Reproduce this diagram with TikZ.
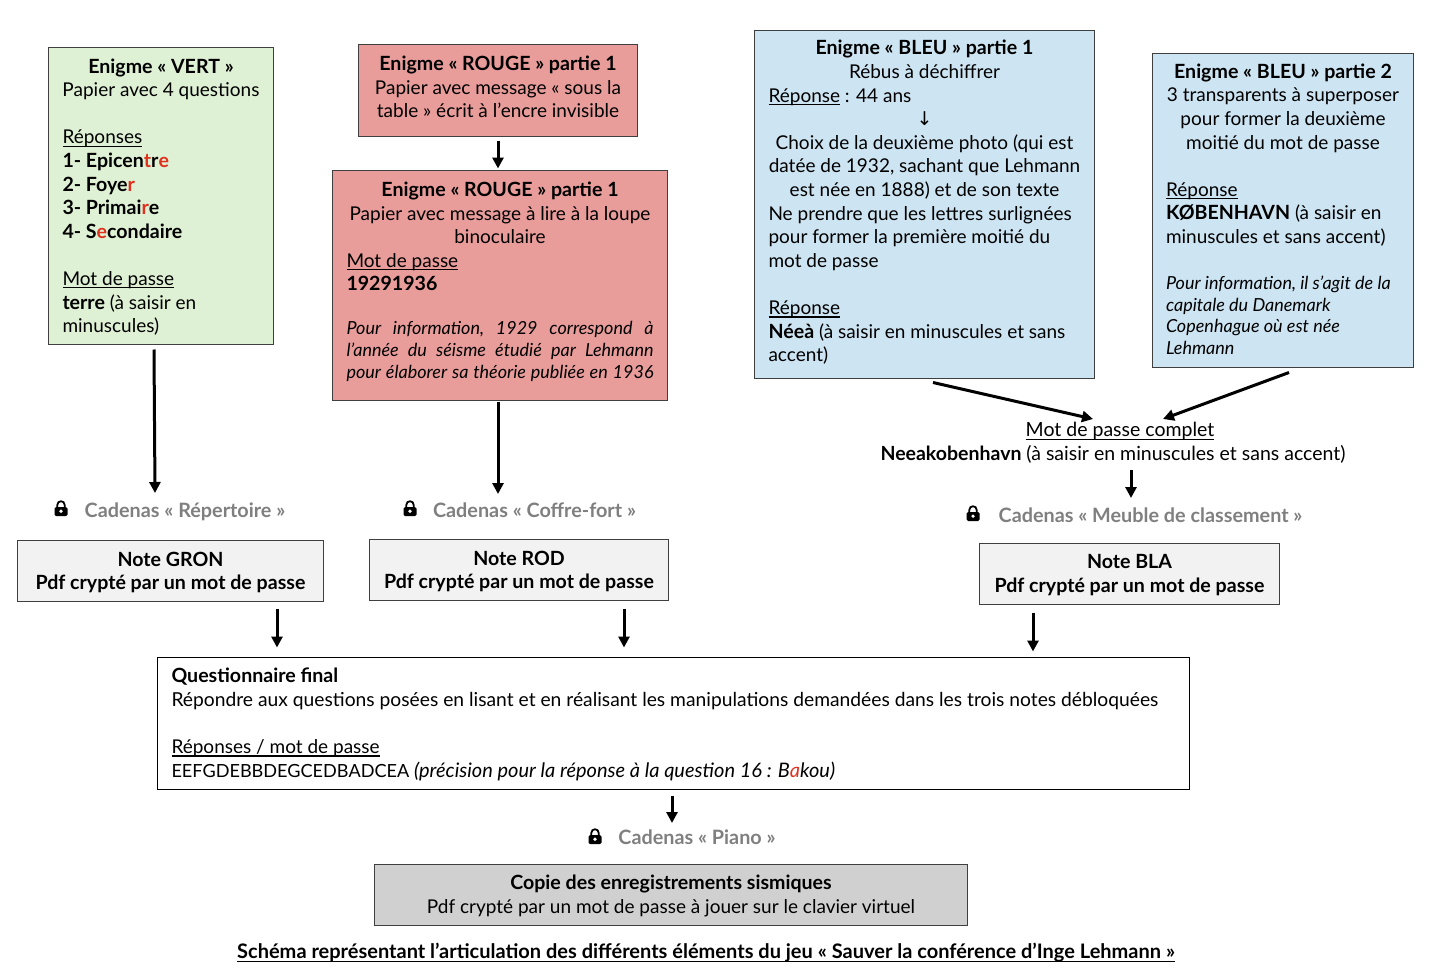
\documentclass[tikz,border=0pt]{standalone}
\usepackage{fontspec}
\setmainfont{Lato}
\newfontfamily\symfont{DejaVu Sans}
\usetikzlibrary{arrows.meta}
\definecolor{gfill}{HTML}{DFF1D4}
\definecolor{rfill}{HTML}{E99D9B}
\definecolor{bfill}{HTML}{CDE4F2}
\definecolor{nfill}{HTML}{F2F2F2}
\definecolor{cfill}{HTML}{D0D0D0}
\definecolor{edge}{HTML}{3F3F3F}
\definecolor{cad}{HTML}{7F7F7F}
\definecolor{rd}{HTML}{E0301E}
\newcommand{\myfs}{\fontsize{19}{23.6}\selectfont}
\newcommand{\myit}{\fontsize{18}{22}\selectfont\itshape}
\newcommand{\Bd}[1]{{\fontsize{19.6}{23.6}\selectfont\bfseries #1}}
\newcommand{\Rd}[1]{\textcolor{rd}{#1}}
\newsavebox{\ulbox}
\newcommand{\Ul}[1]{\leavevmode\sbox{\ulbox}{#1}\rlap{\rule[-3pt]{\wd\ulbox}{1.2pt}}\usebox{\ulbox}}
\newcommand{\cl}[1]{\makebox[\linewidth]{#1}}
\newcommand{\tbox}[2]{\parbox{#1pt}{\myfs\raggedright #2}}
\tikzset{
  x=1pt,y=-1pt,
  box/.style={draw=edge,line width=1pt,inner sep=0pt,anchor=center},
  arr/.style={line width=3pt,-{Stealth[length=11pt,width=11pt,inset=0pt]}},
  cadt/.style={text=cad,font=\fontsize{19.8}{23.6}\selectfont\bfseries,inner sep=0pt,anchor=base},
  free/.style={inner sep=0pt,font=\myfs},
  lockicon/.pic={
    \draw[line width=1.8pt] (-3.7,0) -- (-3.7,-3) .. controls (-3.7,-8) and (3.7,-8) .. (3.7,-3) -- (3.7,0);
    \fill[black,rounded corners=1.5pt] (-6.5,-1) rectangle (6.5,8);
    \fill[white] (0,3.2) circle (1.8);
  }
}
\begin{document}
\begin{tikzpicture}
\useasboundingbox (0,0) rectangle (1436,977);
\node[box,fill=gfill,minimum width=225pt,minimum height=297pt] (green) at (161,195.5) {\tbox{197}{\vspace*{3pt}%
\cl{\Bd{Enigme « VERT »}}\\
\cl{Papier avec 4 questions}\\[23.6pt]
\Ul{Réponses}\\
\Bd{1- Epicen\Rd{t}r\Rd{e}}\\
\Bd{2- Foye\Rd{r}}\\
\Bd{3- Primai\Rd{r}e}\\
\Bd{4- S\Rd{e}condaire}\\[23.6pt]
\Ul{Mot de passe}\\
\Bd{terre} (à saisir en\\
minuscules)}};
\node[box,fill=rfill,minimum width=279pt,minimum height=92pt] (rougeA) at (498,90) {\tbox{260}{%
\cl{\Bd{Enigme « ROUGE » partie 1}}\\
\cl{Papier avec message « sous la}\\
\cl{table » écrit à l’encre invisible}\\[6pt]}};
\node[box,fill=rfill,minimum width=335pt,minimum height=230pt] (rougeB) at (500,285) {\parbox{307pt}{\myfs\raggedright
\cl{\Bd{Enigme « ROUGE » partie 1}}\\
\cl{Papier avec message à lire à la loupe}\\
\cl{binoculaire}\\
\Ul{Mot de passe}\\
\Bd{19291936}\par\vspace{22pt}
{\myit
\makebox[\linewidth][s]{Pour\hfill information,\hfill 1929\hfill correspond\hfill à}\\
\makebox[\linewidth][s]{l’année\hfill du\hfill séisme\hfill étudié\hfill par\hfill Lehmann}\\
\makebox[\linewidth][s]{pour\hfill élaborer\hfill sa\hfill théorie\hfill publiée\hfill en\hfill 1936}\par}\vspace{6pt}}};
\node[box,fill=bfill,minimum width=340pt,minimum height=348pt] (bleuA) at (924.5,204) {\tbox{312}{%
\cl{\Bd{Enigme « BLEU » partie 1}}\\
\cl{Rébus à déchiffrer}\\
\Ul{Réponse} : 44 ans\\
\cl{{\symfont ↓}}\\
\cl{Choix de la deuxième photo (qui est}\\
\cl{datée de 1932, sachant que Lehmann}\\
\cl{est née en 1888) et de son texte}\\
Ne prendre que les lettres surlignées\\
pour former la première moitié du\\
mot de passe\\[23.6pt]
\Ul{Réponse}\\
\Bd{Néeà} (à saisir en minuscules et sans\\
accent)\par\vspace{3pt}}};
\node[box,fill=bfill,minimum width=261pt,minimum height=314pt] (bleuB) at (1283,210) {\tbox{234}{%
\cl{\Bd{Enigme « BLEU » partie 2}}\\
\cl{3 transparents à superposer}\\
\cl{pour former la deuxième}\\
\cl{moitié du mot de passe}\\[23.6pt]
\Ul{Réponse}\\
\Bd{KØBENHAVN} (à saisir en\\
minuscules et sans accent)\par\vspace{25pt}
{\myit\fontsize{18}{21.4}\selectfont Pour information, il s’agit de la\\
capitale du Danemark\\
Copenhague où est née\\
Lehmann\par}\vspace{2pt}}};
\node[free,align=center,font=\fontsize{19.5}{23.6}\selectfont] (mot) at (1113,443) {\hspace*{14pt}\Ul{Mot de passe complet}\\{\bfseries Neeakobenhavn} (à saisir en minuscules et sans accent)};
\node[cadt] (cadR) at (185,517.5) {Cadenas « Répertoire »};
\node[cadt] (cadC) at (534.5,517) {Cadenas « Coffre-fort »};
\node[cadt] (cadM) at (1150.5,522.5) {Cadenas « Meuble de classement »};
\node[cadt] (cadP) at (697,844.5) {Cadenas « Piano »};
\pic at (61,508) {lockicon};
\pic at (410,508) {lockicon};
\pic at (973,513) {lockicon};
\pic at (595,836) {lockicon};
\node[box,fill=nfill,minimum width=306pt,minimum height=61pt] (noteG) at (170.5,570.5) {\tbox{290}{\vspace*{4pt}\cl{\Bd{Note GRON}}\\\cl{\Bd{Pdf crypté par un mot de passe}}}};
\node[box,fill=nfill,minimum width=299pt,minimum height=61pt] (noteR) at (519,569.5) {\tbox{290}{\vspace*{4pt}\cl{\Bd{Note ROD}}\\\cl{\Bd{Pdf crypté par un mot de passe}}}};
\node[box,fill=nfill,minimum width=300pt,minimum height=61pt] (noteB) at (1129.5,573.5) {\tbox{290}{\vspace*{3pt}\cl{\Bd{Note BLA}}\\\cl{\Bd{Pdf crypté par un mot de passe}}}};
\node[box,draw=black,fill=white,minimum width=1032pt,minimum height=132pt] (quest) at (673.5,723) {\tbox{1004}{\vspace*{3pt}%
\Bd{Questionnaire final}\\
{\fontsize{19.25}{23.6}\selectfont Répondre aux questions posées en lisant et en réalisant les manipulations demandées dans les trois notes débloquées}\\[23.6pt]
\Ul{Réponses / mot de passe}\\
{\fontsize{18.1}{23.6}\selectfont EEFGDEBBDEGCEDBADCEA} {\fontsize{20}{23.6}\selectfont\itshape(précision pour la réponse à la question 16 : B\Rd{a}kou)}}};
\node[box,fill=cfill,minimum width=593pt,minimum height=61pt] (copie) at (671,894.5) {\tbox{580}{\vspace*{3pt}\cl{\Bd{Copie des enregistrements sismiques}}\\\cl{Pdf crypté par un mot de passe à jouer sur le clavier virtuel}}};
\node[free,font=\fontsize{20}{23.6}\selectfont\bfseries] (titre) at (706,953) {\Ul{Schéma représentant l’articulation des différents éléments du jeu « Sauver la conférence d’Inge Lehmann »}};
\draw[arr] ([shift={(-7,5)}]green.south) -- ([shift={(-30,-24.5)}]cadR.base);
\draw[arr] ([shift={(0,4)}]rougeA.south) -- ([shift={(-2,-1)}]rougeB.north);
\draw[arr] ([shift={(-2,1)}]rougeB.south) -- ([shift={(-36.5,-23)}]cadC.base);
\draw[arr] ([shift={(8.5,4)}]bleuA.south) -- ([shift={(-20,-24)}]mot.center);
\draw[arr] ([shift={(6,5)}]bleuB.south) -- ([shift={(50,-24)}]mot.center);
\draw[arr] ([shift={(18,27)}]mot.center) -- ([shift={(-19.5,-24.5)}]cadM.base);
\draw[arr] ([shift={(106.5,7)}]noteG.south) -- ([shift={(-396.5,-9)}]quest.north);
\draw[arr] ([shift={(105,8)}]noteR.south) -- ([shift={(-49.5,-9)}]quest.north);
\draw[arr] ([shift={(-96.5,8)}]noteB.south) -- ([shift={(359.5,-5)}]quest.north);
\draw[arr] ([shift={(-1.5,6)}]quest.south) -- ([shift={(-25,-21.5)}]cadP.base);
\end{tikzpicture}
\end{document}
